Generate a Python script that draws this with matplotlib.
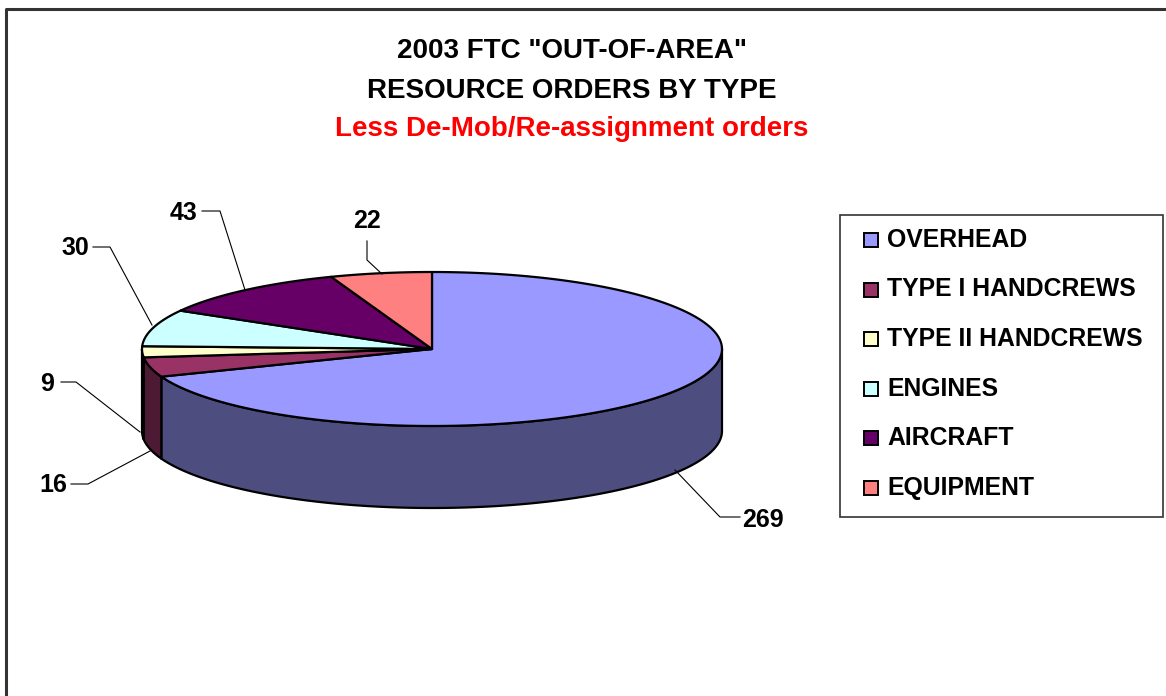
import matplotlib
matplotlib.use("Agg")
import matplotlib.pyplot as plt
from matplotlib.patches import Polygon, Rectangle
from matplotlib.colors import to_rgb
import numpy as np

plt.rcParams["font.family"] = ["Liberation Sans", "DejaVu Sans"]
plt.rcParams["font.weight"] = "bold"

categories = ["OVERHEAD", "TYPE I HANDCREWS", "TYPE II HANDCREWS", "ENGINES", "AIRCRAFT", "EQUIPMENT"]
values = [269, 16, 9, 30, 43, 22]
colors = ["#9999FF", "#993366", "#FFFFCC", "#CCFFFF", "#660066", "#FF8080"]

title_lines = ['2003 FTC "OUT-OF-AREA"', "RESOURCE ORDERS BY TYPE"]
subtitle = "Less De-Mob/Re-assignment orders"

# pie geometry in pixel space (y down)
cx, cy = 432, 349
rx, ry = 290, 77
depth = 82

# leader lines: text position, then polyline from text to slice edge
label_layout = [
    ((763, 520), [(740, 517), (720, 517), (675, 470)]),
    ((53, 485), [(71, 484), (88, 484), (150, 451)]),
    ((47, 384), [(61, 382), (76, 382), (140, 432)]),
    ((75, 248), [(93, 247), (110, 247), (152, 325)]),
    ((184, 213), [(202, 211), (220, 211), (245, 290)]),
    ((367, 221), [(367, 241), (367, 260), (382, 274)]),
]


def ellipse_pts(t0, t1, dy=0, n=200):
    t = np.radians(np.linspace(t0, t1, n))
    return np.column_stack([cx + rx * np.cos(t), cy - ry * np.sin(t) + dy])


fig = plt.figure(figsize=(11.66, 6.96), dpi=100)
ax = fig.add_axes([0, 0, 1, 1])
ax.set_xlim(0, 1166)
ax.set_ylim(696, 0)
ax.axis("off")

# chart frame (top and left edges visible)
ax.plot([6, 6, 1166], [696, 9, 9], color="#333333", lw=2.2, solid_capstyle="butt")

total = float(sum(values))
cum = np.concatenate([[0], np.cumsum(values)]) / total * 360.0
starts = 90 - cum[:-1]
ends = 90 - cum[1:]

# side walls (front half only)
for s, e, c in zip(starts, ends, colors):
    side = tuple(0.5 * v for v in to_rgb(c))
    for k in (-1, 0, 1):
        lo, hi = max(e, -180 + 360 * k), min(s, 360 * k)
        if hi - lo <= 0:
            continue
        top = ellipse_pts(lo, hi)
        bot = ellipse_pts(hi, lo, dy=depth)
        ax.add_patch(Polygon(np.vstack([top, bot]), closed=True, facecolor=side,
                             edgecolor="black", lw=1.6, joinstyle="round"))

# top faces
for s, e, c in zip(starts, ends, colors):
    pts = np.vstack([[cx, cy], ellipse_pts(s, e)])
    ax.add_patch(Polygon(pts, closed=True, facecolor=c, edgecolor="black", lw=1.6,
                         joinstyle="round"))

# data labels with leader lines
for v, (tpos, line) in zip(values, label_layout):
    ax.text(tpos[0], tpos[1], str(v), fontsize=18, fontweight="bold",
            ha="center", va="center")
    xs, ys = zip(*line)
    ax.plot(xs, ys, color="black", lw=0.8)

# titles
tx = 572
ax.text(tx, 51, title_lines[0], fontsize=20, fontweight="bold", ha="center", va="center")
ax.text(tx, 91, title_lines[1], fontsize=20, fontweight="bold", ha="center", va="center")
ax.text(tx, 129, subtitle, fontsize=20, fontweight="bold", color="#FF0000",
        ha="center", va="center")

# legend
ax.add_patch(Rectangle((840, 215), 323, 302, facecolor="white", edgecolor="#333333", lw=1.2))
for i, (name, c) in enumerate(zip(categories, colors)):
    y = 240 + i * 49.5
    ax.add_patch(Rectangle((864, y - 7), 14, 14, facecolor=c, edgecolor="black", lw=1.4))
    ax.text(887, y, name, fontsize=17.8, fontweight="bold", ha="left", va="center")

fig.savefig("out.png", dpi=100)
